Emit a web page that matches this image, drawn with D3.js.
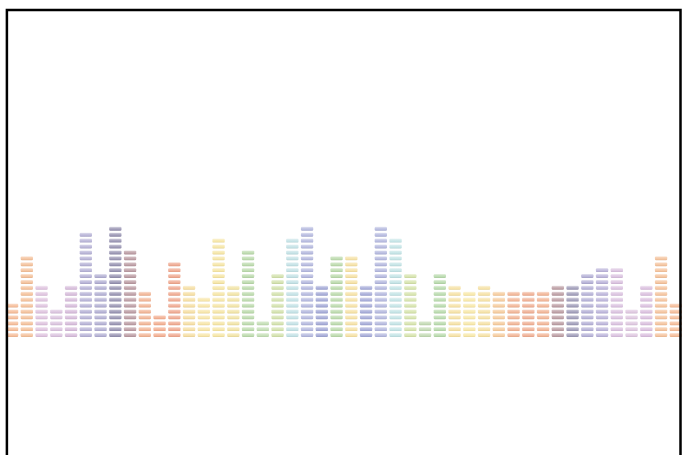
<!DOCTYPE html>
<html>
<head>
<meta charset="utf-8">
<script src="https://cdn.jsdelivr.net/npm/d3@7/dist/d3.min.js"></script>
<style>
  html, body { margin: 0; padding: 0; background: #fff; }
  svg { display: block; }
</style>
</head>
<body>
<svg id="chart" width="691" height="455"></svg>
<script>
// ---- data ----
const categories = d3.range(1, 47).map(i => "C" + i);
const values = [6, 14, 9, 5, 9, 18, 11, 19, 15, 8, 4, 13,
                9, 7, 17, 9, 15, 3, 11, 17, 19, 9, 14, 14,
                9, 19, 17, 11, 3, 11, 9, 8, 9, 8, 8, 8,
                8, 9, 9, 11, 12, 12, 5, 9, 14, 6];
const palette = ["#f5b993", "#f3bd95", "#dcc0dc", "#d8c0dc", "#d4b8d8", "#b2aed4",
                 "#aeaad0", "#928eae", "#b8969e", "#f0b08f", "#f2a98a", "#eea48a",
                 "#f5dc9e", "#f7e4a4", "#f5e4a0", "#f0e2a0", "#b8d8a8", "#c0dcb0",
                 "#d0e0a8", "#c0e0e4", "#b0b4dc", "#9ea4d4", "#b8d8a8", "#f5e0a0",
                 "#a0a6d6", "#b0b4dc", "#c0e2e4", "#d4e2a8", "#c0d8b0", "#b4d8a8",
                 "#f5e0a0", "#f7e6a4", "#f5e0a0", "#f5c898", "#f0b090", "#eeaa8e",
                 "#f0b090", "#b8989e", "#9a96b4", "#b0acd4", "#b8b0d8", "#d8bede",
                 "#dcc4de", "#d8bcdc", "#f4c098", "#f5b993"];
const yMax = 40;

// ---- layout ----
const svg = d3.select("#chart");
const x = d3.scaleBand().domain(categories).range([4.7, 683.2]).paddingInner(0.166).paddingOuter(0.083);
const y = d3.scaleLinear().domain([0, yMax]).range([337.95, 337.95 - yMax * 5.9]);
const unit = y(0) - y(1);
const segH = 4;
const gap = unit - segH;

const defs = svg.append("defs");
palette.forEach((c, i) => {
  const base = d3.color(c);
  const g = defs.append("linearGradient").attr("id", "g" + i)
    .attr("x1", 0).attr("y1", 0).attr("x2", 0).attr("y2", 1);
  g.append("stop").attr("offset", "0").attr("stop-color", d3.interpolateRgb(c, "#ffffff")(0.7));
  g.append("stop").attr("offset", "0.3").attr("stop-color", d3.interpolateRgb(c, "#ffffff")(0.3));
  g.append("stop").attr("offset", "0.7").attr("stop-color", d3.interpolateRgb(c, "#ffffff")(0.1));
  g.append("stop").attr("offset", "1").attr("stop-color", base.darker(0.2).formatHex());
});

const segs = [];
values.forEach((v, i) => {
  for (let k = 0; k < v; k++) segs.push({ cat: categories[i], i, k });
});

svg.append("g").selectAll("rect").data(segs).join("rect")
  .attr("x", d => x(d.cat))
  .attr("width", x.bandwidth())
  .attr("y", d => y(d.k + 1) + gap / 2)
  .attr("height", segH)
  .attr("rx", 1.2)
  .attr("fill", d => `url(#g${d.i})`);

// frame
svg.append("rect")
  .attr("x", 6.9).attr("y", 10)
  .attr("width", 673.6).attr("height", 520)
  .attr("fill", "none")
  .attr("stroke", "#000")
  .attr("stroke-width", 2.5);
</script>
</body>
</html>
